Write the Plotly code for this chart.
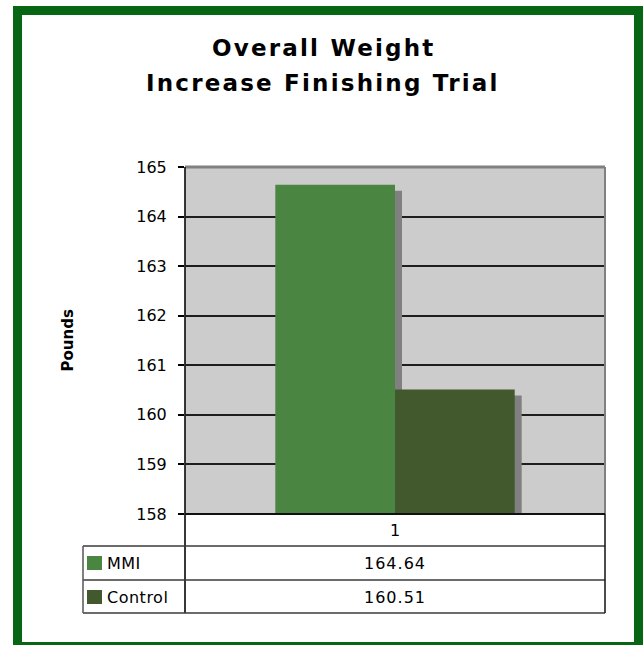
import plotly.graph_objects as go

categories = ["1"]
series_names = ["MMI", "Control"]
series_values = [164.64, 160.51]
series_colors = ["#4A8642", "#41592C"]
title_lines = ["Overall Weight", "Increase Finishing Trial"]
y_title = "Pounds"
y_min, y_max = 158, 165

W, H = 644, 645
PL, PR, PT, PB = 185, 605, 167, 514  # plot area pixel box


def px(x):
    return x / W


def py(y):
    return 1 - y / H


def spaced(text, ls):
    return f'<span style="letter-spacing:{ls}px">{text}</span>'


FONT = "DejaVu Sans"
unit_px = (PB - PT) / (y_max - y_min)
bar_w = 0.285
shadow_dx = 7 / (PR - PL)
shadow_dy = 6 / unit_px

fig = go.Figure()

# shadows
for i, (name, val) in enumerate(zip(series_names, series_values)):
    fig.add_trace(go.Bar(
        x=[0], y=[val - shadow_dy - y_min], base=[y_min],
        offset=-bar_w + i * bar_w + shadow_dx, width=bar_w,
        marker=dict(color="#808080", line=dict(width=0)),
        showlegend=False, hoverinfo="skip"))
# bars
for i, (name, val, col) in enumerate(zip(series_names, series_values, series_colors)):
    fig.add_trace(go.Bar(
        x=[0], y=[val - y_min], base=[y_min], name=name,
        offset=-bar_w + i * bar_w, width=bar_w,
        marker=dict(color=col, line=dict(width=0)),
        showlegend=False))

fig.update_layout(
    width=W, height=H, autosize=False,
    margin=dict(l=0, r=0, t=0, b=0, pad=0, autoexpand=False),
    paper_bgcolor="white", plot_bgcolor="#CCCCCC",
    barmode="overlay", showlegend=False,
    font=dict(family=FONT, size=15, color="black"),
    xaxis=dict(domain=[px(PL), px(PR)], range=[-0.5, 0.5], automargin=False,
               showticklabels=False, showgrid=False, zeroline=False,
               ticks="", fixedrange=True),
    yaxis=dict(domain=[py(PB), py(PT)], range=[y_min, y_max], dtick=1,
               automargin=False,
               showgrid=True, gridcolor="#1E1E1E", gridwidth=1.6,
               zeroline=False, ticks="outside", ticklen=6, tickwidth=1.5,
               tickcolor="black", ticklabelstandoff=8,
               tickfont=dict(family=FONT, size=16, color="black"),
               showline=False, fixedrange=True),
)

shapes = []
# plot border: gray top/right, black left/bottom
shapes.append(dict(type="line", xref="paper", yref="paper",
                   x0=px(PL), x1=px(PR), y0=py(PT), y1=py(PT),
                   line=dict(color="#808080", width=3)))
shapes.append(dict(type="line", xref="paper", yref="paper",
                   x0=px(PR), x1=px(PR), y0=py(PT), y1=py(PB),
                   line=dict(color="#808080", width=2)))
shapes.append(dict(type="line", xref="paper", yref="paper",
                   x0=px(PL), x1=px(PL), y0=py(PT), y1=py(613),
                   line=dict(color="#222222", width=1.8)))
shapes.append(dict(type="line", xref="paper", yref="paper",
                   x0=px(PL), x1=px(PR), y0=py(PB), y1=py(PB),
                   line=dict(color="#111111", width=2.2)))

# data table
row_lines = [546, 580, 613]
TL = 83
for yy in row_lines:
    shapes.append(dict(type="line", xref="paper", yref="paper",
                       x0=px(TL), x1=px(PR), y0=py(yy), y1=py(yy),
                       line=dict(color="#3A3A3A", width=1.5)))
shapes.append(dict(type="line", xref="paper", yref="paper",
                   x0=px(TL), x1=px(TL), y0=py(546), y1=py(613),
                   line=dict(color="#555555", width=1.5)))
shapes.append(dict(type="line", xref="paper", yref="paper",
                   x0=px(PR), x1=px(PR), y0=py(PB), y1=py(613),
                   line=dict(color="#111111", width=1.5)))

annotations = []
annotations.append(dict(xref="paper", yref="paper", x=px((PL + PR) / 2), y=py(530),
                        xanchor="center", yanchor="middle",
                        text=categories[0], showarrow=False,
                        font=dict(family=FONT, size=16, color="black")))
row_centers = [563, 597]
for name, val, col, yc in zip(series_names, series_values, series_colors, row_centers):
    shapes.append(dict(type="rect", xref="paper", yref="paper",
                       x0=px(87), x1=px(102), y0=py(yc - 7), y1=py(yc + 7),
                       fillcolor=col, line=dict(width=0)))
    annotations.append(dict(xref="paper", yref="paper", x=px(105), y=py(yc),
                            xanchor="left", yanchor="middle",
                            text=spaced(name, 0.5), showarrow=False,
                            font=dict(family=FONT, size=16, color="black")))
    annotations.append(dict(xref="paper", yref="paper", x=px((PL + PR) / 2), y=py(yc),
                            xanchor="center", yanchor="middle",
                            text=spaced(f"{val:.2f}", 1), showarrow=False,
                            font=dict(family=FONT, size=16, color="black")))

# titles
for line, yc in zip(title_lines, [48, 83]):
    annotations.append(dict(xref="paper", yref="paper", x=px(323), y=py(yc),
                            xanchor="center", yanchor="middle",
                            text=f"<b>{spaced(line, 2.2)}</b>", showarrow=False,
                            font=dict(family=FONT, size=23, color="black")))
annotations.append(dict(xref="paper", yref="paper", x=px(67), y=py((PT + PB) / 2),
                        xanchor="center", yanchor="middle",
                        text=f"<b>{y_title}</b>", textangle=-90, showarrow=False,
                        font=dict(family=FONT, size=15, color="black")))

# green frame
shapes.append(dict(type="rect", xref="paper", yref="paper",
                   x0=px(17.5), x1=px(638.5), y0=py(10.5), y1=py(646.5),
                   line=dict(color="#066614", width=9), fillcolor="rgba(0,0,0,0)"))

fig.update_layout(shapes=shapes, annotations=annotations)
fig.write_html(
    "out.html",
    config={"displayModeBar": False, "responsive": False},
    post_script=("document.documentElement.style.margin='0';"
                 "document.body.style.margin='0';document.body.style.padding='0';"
                 "document.body.style.overflow='hidden';"),
)
